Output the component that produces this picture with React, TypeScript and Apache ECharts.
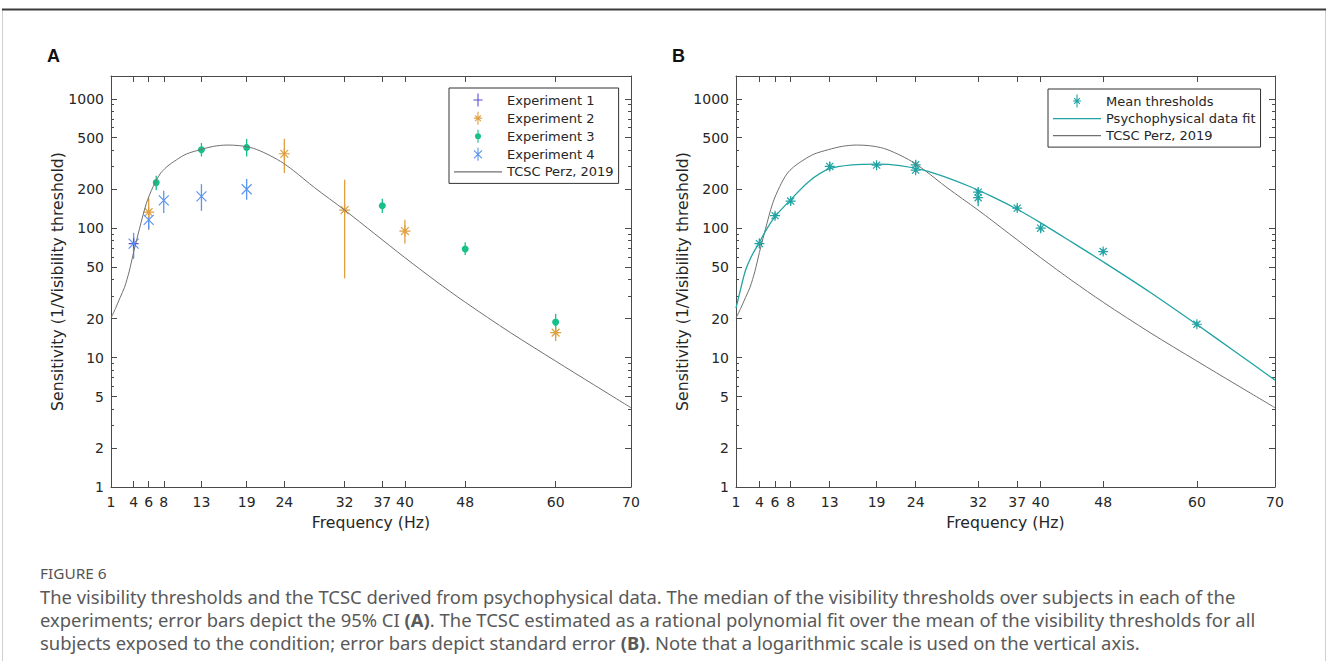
import React, { useEffect, useRef } from 'react';
import * as echarts from 'echarts';

// ---------- Tick definitions ----------
const FREQ_TICKS = [1, 4, 6, 8, 13, 19, 24, 32, 37, 40, 48, 60, 70];
const SENS_TICKS = [1, 2, 5, 10, 20, 50, 100, 200, 500, 1000];
const SENS_MINOR = [3, 4, 6, 7, 8, 9, 30, 40, 60, 70, 80, 90, 300, 400, 600, 700, 800, 900];

// ---------- Panel A: medians with 95% CI ----------
const exp1Freq = [4];
const exp1Val = [76];
const exp1Lo = [68];
const exp1Hi = [85];

const exp2Freq = [6, 24, 32, 40, 60];
const exp2Val = [133, 376, 138, 95, 15.6];
const exp2Lo = [97, 267, 41, 76, 13.4];
const exp2Hi = [173, 491, 237, 116, 17.2];

const exp3Freq = [7, 13, 19, 37, 48, 60];
const exp3Val = [225, 404, 421, 149, 69, 18.8];
const exp3Lo = [196, 358, 358, 131, 62, 16.2];
const exp3Hi = [254, 455, 489, 169, 78, 21.8];

const exp4Freq = [4, 6, 8, 13, 19];
const exp4Val = [76, 116, 164, 176, 200];
const exp4Lo = [58, 98, 131, 136, 166];
const exp4Hi = [92, 130, 195, 219, 240];

// ---------- TCSC Perz 2019 curve ----------
const tcscFreq = [1, 1.6, 2.2, 2.8, 3.4, 4, 4.8, 5.7, 6.6, 7.5, 8.4, 9.7, 11, 12.8, 14.6, 16.4, 18.1, 19.9, 21.7, 23.5, 25.2, 28, 32, 36, 40, 44, 48, 54, 60, 65, 70];
const tcscVal = [20.2, 24, 29, 35, 46, 65, 100, 156, 210, 262, 298, 338, 374, 404, 429, 439, 434, 414, 374, 328, 279, 206, 138, 90.4, 59.2, 39.4, 26.8, 15.6, 9.4, 6.2, 4.1];

// ---------- Panel B: mean thresholds with SE ----------
const meanFreq = [4, 6, 8, 13, 19, 24, 24, 32, 32, 37, 40, 48, 60];
const meanVal = [76, 125, 162, 300, 307, 309, 281, 190, 172, 143, 100, 66, 18.1];
const meanLo = [70, 117, 152, 279, 295, 290, 268, 178, 148, 136, 93, 63, 17.3];
const meanHi = [83, 132, 172, 324, 320, 334, 296, 203, 196, 151, 108, 69, 19];

// ---------- Psychophysical data fit ----------
const fitFreq = [1, 1.6, 2.24, 3, 3.94, 5, 6, 8, 10.34, 12.9, 15.9, 19, 22, 25, 28, 31, 34, 37, 40, 44, 48, 54, 60, 65, 70];
const fitVal = [24.1, 34, 47.7, 61, 76.7, 100, 123, 166, 230, 287, 309, 313, 305, 281, 246, 209, 173, 140, 110, 78, 55, 32, 18, 11, 6.7];

// ---------- Captions ----------
const CAPTION_TITLE = 'FIGURE 6';
const CAPTION_LINES = [
  'The visibility thresholds and the TCSC derived from psychophysical data. The median of the visibility thresholds over subjects in each of the',
  'experiments; error bars depict the 95% CI {b|(A)}. The TCSC estimated as a rational polynomial fit over the mean of the visibility thresholds for all',
  'subjects exposed to the condition; error bars depict standard error {b|(B)}. Note that a logarithmic scale is used on the vertical axis.',
];

// ---------- Styling ----------
const AXIS_COLOR = '#4a4a4a';
const TEXT_COLOR = '#262626';
const FONT = 'DejaVu Sans';
const C_PURPLE = '#5b50d6';
const C_ORANGE = '#e0a040';
const C_GREEN = '#16c08a';
const C_BLUE = '#5c95f0';
const C_GRAY = '#707070';
const C_TEAL = '#22a3a3';

const SYM_PLUS = 'path://M5,0L5,10M0,5L10,5';
const SYM_STAR = 'path://M5,0L5,10M0,5L10,5M1.46,1.46L8.54,8.54M1.46,8.54L8.54,1.46';
const SYM_X = 'path://M0,0L10,10M0,10L10,0';
const LEG_PLUS = 'path://M5,-2L5,12M0,5L10,5';
const LEG_STAR = 'path://M5,-3L5,13M0,5L10,5M1.46,1.46L8.54,8.54M1.46,8.54L8.54,1.46';
const LEG_DOT = 'path://M5,-3L5,13M5,2A3,3,0,1,1,5,8A3,3,0,1,1,5,2Z';
const LEG_X = 'path://M5,-3L5,13M0,0L10,10M0,10L10,0';
const LEG_LINE = 'path://M0,0L48,0L48,1.1L0,1.1Z';
const LEG_LINE_THICK = 'path://M0,0L48,0L48,1.4L0,1.4Z';

const GRIDS = [
  { left: 111, top: 76, width: 520, height: 411 },
  { left: 736, top: 76, width: 539, height: 411 },
];

function xAxesFor(gi: number) {
  const common = {
    gridIndex: gi,
    type: 'value',
    min: 1,
    max: 70,
    splitLine: { show: false },
    axisLine: { show: true, onZero: false, lineStyle: { color: AXIS_COLOR, width: 1 } },
    axisTick: { show: true, inside: true, length: 6, customValues: FREQ_TICKS, lineStyle: { color: AXIS_COLOR } },
  };
  return [
    {
      ...common,
      position: 'bottom',
      axisLabel: {
        show: true,
        customValues: FREQ_TICKS,
        color: TEXT_COLOR,
        fontSize: 14,
        fontFamily: FONT,
        margin: 8,
        formatter: (v: number) => String(Math.round(v)),
      },
      name: 'Frequency (Hz)',
      nameLocation: 'middle',
      nameGap: 27,
      nameMoveOverlap: false,
      nameTextStyle: { color: TEXT_COLOR, fontSize: 15.7, fontFamily: FONT },
    },
    { ...common, position: 'top', axisLabel: { show: false } },
  ];
}

function yAxesFor(gi: number) {
  const common = {
    gridIndex: gi,
    type: 'log',
    logBase: 10,
    min: 1,
    max: 1500,
    splitLine: { show: false },
    minorTick: { show: false },
  };
  const majorTick = { show: true, inside: true, length: 6, customValues: SENS_TICKS, lineStyle: { color: AXIS_COLOR } };
  const minorTick = { show: true, inside: true, length: 3, customValues: SENS_MINOR, lineStyle: { color: AXIS_COLOR } };
  const line = { show: true, onZero: false, lineStyle: { color: AXIS_COLOR, width: 1 } };
  return [
    {
      ...common,
      position: 'left',
      axisLine: line,
      axisTick: majorTick,
      axisLabel: {
        show: true,
        customValues: SENS_TICKS,
        color: TEXT_COLOR,
        fontSize: 14,
        fontFamily: FONT,
        margin: 7,
        formatter: (v: number) => String(Math.round(v)),
      },
      name: 'Sensitivity (1/Visibility threshold)',
      nameLocation: 'middle',
      nameGap: 46,
      nameMoveOverlap: false,
      nameTextStyle: { color: TEXT_COLOR, fontSize: 15.7, fontFamily: FONT },
    },
    { ...common, position: 'left', axisLine: { show: false }, axisTick: minorTick, axisLabel: { show: false } },
    { ...common, position: 'right', axisLine: line, axisTick: majorTick, axisLabel: { show: false } },
    { ...common, position: 'right', axisLine: { show: false }, axisTick: minorTick, axisLabel: { show: false } },
  ];
}

function errorBars(xs: number[], lo: number[], hi: number[], color: string, xi: number, yi: number) {
  return {
    type: 'custom',
    xAxisIndex: xi,
    yAxisIndex: yi,
    silent: true,
    z: 2,
    data: xs.map((x, i) => [x, lo[i], hi[i]]),
    encode: { x: 0, y: [1, 2] },
    renderItem: (_params: any, api: any) => {
      const p1 = api.coord([api.value(0), api.value(1)]);
      const p2 = api.coord([api.value(0), api.value(2)]);
      return {
        type: 'line',
        shape: { x1: p1[0], y1: p1[1], x2: p2[0], y2: p2[1] },
        style: { stroke: color, lineWidth: 1.3 },
      };
    },
  };
}

function scatter(name: string, xs: number[], ys: number[], symbol: string, size: number, color: string, xi: number, yi: number) {
  return {
    type: 'scatter',
    name,
    xAxisIndex: xi,
    yAxisIndex: yi,
    symbol,
    symbolSize: size,
    z: 3,
    itemStyle: { color, borderColor: color, borderWidth: symbol === 'circle' ? 0 : 1.2, opacity: 1 },
    data: xs.map((x, i) => [x, ys[i]]),
  };
}

function curve(name: string, xs: number[], ys: number[], color: string, width: number, xi: number, yi: number) {
  return {
    type: 'line',
    name,
    xAxisIndex: xi,
    yAxisIndex: yi,
    symbol: 'none',
    smooth: 0.3,
    z: 4,
    lineStyle: { color, width },
    itemStyle: { color },
    data: xs.map((x, i) => [x, ys[i]]),
  };
}

function legendItem(name: string, icon: string, color: string) {
  return { name, icon, itemStyle: { color, borderColor: color, borderWidth: 1.1 } };
}

function legendLine(name: string, icon: string, color: string) {
  return { name, icon, itemStyle: { color, borderWidth: 0 } };
}

export default function App() {
  const ref = useRef<HTMLDivElement>(null);

  useEffect(() => {
    if (!ref.current) return;
    const chart = echarts.init(ref.current, undefined, { renderer: 'svg' });

    const legendCommon = {
      orient: 'vertical',
      itemWidth: 48,
      itemHeight: 13,
      itemGap: 4,
      padding: [5, 5, 5, 5],
      borderColor: '#333',
      borderWidth: 1,
      backgroundColor: '#fff',
      selectedMode: false,
      textStyle: { color: TEXT_COLOR, fontSize: 13, fontFamily: FONT },
    };

    const option: any = {
      animation: false,
      backgroundColor: '#fff',
      grid: GRIDS.map((g) => ({ ...g, containLabel: false, outerBoundsMode: 'none' })),
      xAxis: [...xAxesFor(0), ...xAxesFor(1)],
      yAxis: [...yAxesFor(0), ...yAxesFor(1)],
      legend: [
        {
          ...legendCommon,
          left: 449,
          top: 88,
          data: [
            legendItem('Experiment 1', LEG_PLUS, C_PURPLE),
            legendItem('Experiment 2', LEG_STAR, C_ORANGE),
            legendItem('Experiment 3', LEG_DOT, C_GREEN),
            legendItem('Experiment 4', LEG_X, C_BLUE),
            legendLine('TCSC Perz, 2019', LEG_LINE, C_GRAY),
          ],
        },
        {
          ...legendCommon,
          left: 1048,
          top: 89,
          data: [
            legendItem('Mean thresholds', LEG_STAR, C_TEAL),
            legendLine('Psychophysical data fit', LEG_LINE_THICK, C_TEAL),
            legendLine('TCSC Perz, 2019', LEG_LINE, C_GRAY),
          ],
        },
      ],
      series: [
        // Panel A
        errorBars(exp1Freq, exp1Lo, exp1Hi, C_PURPLE, 0, 0),
        errorBars(exp2Freq, exp2Lo, exp2Hi, C_ORANGE, 0, 0),
        errorBars(exp3Freq, exp3Lo, exp3Hi, C_GREEN, 0, 0),
        errorBars(exp4Freq, exp4Lo, exp4Hi, C_BLUE, 0, 0),
        scatter('Experiment 1', exp1Freq, exp1Val, SYM_PLUS, 10, C_PURPLE, 0, 0),
        scatter('Experiment 2', exp2Freq, exp2Val, SYM_STAR, 11, C_ORANGE, 0, 0),
        scatter('Experiment 3', exp3Freq, exp3Val, 'circle', 7, C_GREEN, 0, 0),
        scatter('Experiment 4', exp4Freq, exp4Val, SYM_X, 10, C_BLUE, 0, 0),
        curve('TCSC Perz, 2019', tcscFreq, tcscVal, C_GRAY, 1, 0, 0),
        // Panel B
        curve('TCSC Perz, 2019', tcscFreq, tcscVal, C_GRAY, 1, 2, 4),
        curve('Psychophysical data fit', fitFreq, fitVal, C_TEAL, 1.3, 2, 4),
        errorBars(meanFreq, meanLo, meanHi, C_TEAL, 2, 4),
        scatter('Mean thresholds', meanFreq, meanVal, SYM_STAR, 10, C_TEAL, 2, 4),
      ],
      graphic: [
        { type: 'rect', silent: true, shape: { x: 2.5, y: 9.5, width: 1323, height: 660 }, style: { fill: 'none', stroke: '#cfcfcf', lineWidth: 1 } },
        { type: 'line', silent: true, shape: { x1: 2, y1: 9.5, x2: 1326, y2: 9.5 }, style: { stroke: '#3a3a3a', lineWidth: 2 } },
        { type: 'text', x: 47, y: 56, style: { text: 'A', fontSize: 18, fontWeight: 'bold', fontFamily: 'Liberation Sans', fill: '#111', verticalAlign: 'middle' } },
        { type: 'text', x: 672, y: 56, style: { text: 'B', fontSize: 18, fontWeight: 'bold', fontFamily: 'Liberation Sans', fill: '#111', verticalAlign: 'middle' } },
        { type: 'text', x: 40, y: 573, scaleX: 1.1, style: { text: CAPTION_TITLE, fontSize: 14, fontFamily: 'Noto Sans', fill: '#555', verticalAlign: 'middle' } },
        ...CAPTION_LINES.map((t, i) => ({
          type: 'text',
          x: 40,
          y: 597 + i * 23,
          scaleX: 1.052,
          style: {
            text: t,
            fontSize: 17.5,
            fontFamily: 'Noto Sans',
            fill: '#595959',
            verticalAlign: 'middle',
            rich: { b: { fontSize: 17.5, fontFamily: 'Noto Sans', fontWeight: 'bold', fill: '#595959' } },
          },
        })),
      ],
    };

    chart.setOption(option);
    return () => chart.dispose();
  }, []);

  return <div ref={ref} style={{ position: 'absolute', left: 0, top: 0, width: 1328, height: 661 }} />;
}
